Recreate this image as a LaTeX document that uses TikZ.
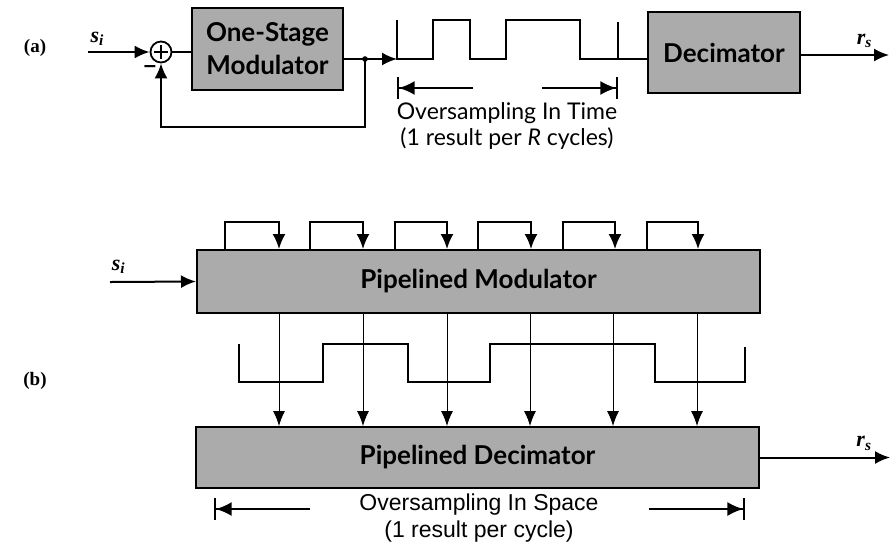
\documentclass[tikz,border=0pt]{standalone}
\usepackage{amsmath}
\usepackage{fontspec}
\setmainfont{Lato}
\newfontfamily\labelserif{Liberation Serif}
\newfontfamily\spacefont{Liberation Sans}
\usetikzlibrary{arrows.meta,positioning}
\definecolor{stipple}{HTML}{ABABAB}

\newcommand{\sigvar}[2]{{\labelserif\bfseries\itshape #1\textsubscript{#2}}}

\tikzset{
  blockbox/.style={draw, line width=2pt, fill=stipple, inner sep=0pt,
    align=center, font=\fontsize{26}{33}\selectfont\bfseries},
  sumnode/.style={circle, draw, line width=1.8pt, minimum size=21pt, inner sep=0pt,
    path picture={\draw[line width=2.2pt] (path picture bounding box.center) +(-7pt,0) -- +(7pt,0)
      (path picture bounding box.center) +(0,-7pt) -- +(0,7pt);}},
  varlabel/.style={font=\fontsize{22}{22}\selectfont},
  wire/.style={line width=2pt},
  sig/.style={wire, -{Latex[length=15pt,width=13pt]}},
  tap/.style={line width=0.9pt, -{Latex[length=15pt,width=12pt]}},
  wave/.style={line width=2.4pt, line join=miter},
  span/.style={line width=2.2pt, -{Latex[length=16pt,width=14pt]Bar[width=22pt,line width=1.6pt]}},
}

\begin{document}
\begin{tikzpicture}[x=1pt, y=-1pt]
  \useasboundingbox (0,0) rectangle (890,550);

  % (a) one-stage modulator
  \node[font=\labelserif\fontsize{19}{20}\selectfont\bfseries] (lbla) at (35,48) {(a)};
  \coordinate (ina) at (88,52);
  \node[sumnode] (sum) at (161,52) {};
  \node[font=\spacefont\fontsize{22}{22}\selectfont\bfseries] (minus) at (150,69) {\char"2013};
  \node[blockbox, minimum width=151pt, minimum height=82pt] (mod) at (267.5,49) {One-Stage\\Modulator};
  \node[blockbox, minimum width=152pt, minimum height=81pt] (dec) at (724,52.5) {Decimator};
  \coordinate (jn) at (365,59);
  \coordinate (wa0) at (397,59);
  \coordinate (wa1) at (618,59);
  \coordinate (outa) at (889,55);

  \draw[sig] (ina) -- node[varlabel, above=2pt, pos=0.15] {\sigvar{s}{i}} (sum.west);
  \draw[wire] (sum.east) -- (mod.west |- sum.east);
  \draw[wire] (mod.east |- jn) -- (jn);
  \draw[sig] (jn) -- (wa0);
  \fill (jn) circle (2.8pt);
  \draw[sig] (jn) -- ++(0,68) -| (sum.south);
  \draw[wave] (397,20) -- (wa0) -- (433,59) -- (433,20) -- (470,20) -- (470,59) -- (506,59)
    -- (506,20) -- (580,20) -- (580,59) -- (wa1) -- (618,22);
  \draw[wire] (wa1) -- (dec.west |- wa1);
  \draw[sig] (dec.east |- outa) -- node[varlabel, above=3pt, pos=0.72] {\sigvar{r}{s}} (outa);

  \draw[span] (473,88) -- (397,88);
  \draw[span] (542,88) -- (618,88);
  \node[font=\fontsize{23}{26}\selectfont, align=center] (timetxt) at (507,126)
    {Oversampling In Time\\(1 result per \textit{R} cycles)};

  % (b) pipelined modulator
  \node[font=\labelserif\fontsize{19}{20}\selectfont\bfseries] (lblb) at (35,381) {(b)};
  \node[blockbox, minimum width=563pt, minimum height=63pt] (pm) at (478.5,281.5) {Pipelined Modulator};
  \node[blockbox, minimum width=563pt, minimum height=61pt] (pd) at (477.5,457.5) {Pipelined Decimator};
  \coordinate (inb) at (110,282);
  \draw[sig] (inb) -- node[varlabel, above=4pt, pos=0.1] {\sigvar{s}{i}} (pm.west);

  \foreach \l/\r in {225/279, 310/363, 395/447, 478/531, 563/615, 647/698}
    \draw[sig] (pm.north -| \l,0) -- (\l,222) -- (\r,222) -- (pm.north -| \r,0);

  \draw[wave] (239,344) -- (239,382) -- (323,382) -- (323,344) -- (408,344) -- (408,382)
    -- (490,382) -- (490,344) -- (655,344) -- (655,382) -- (745,382) -- (745,347);

  \foreach \x in {279, 363, 447, 530, 613, 697}
    \draw[tap] (pm.south -| \x,0) -- (pd.north -| \x,0);

  \draw[sig] (pd.east) -- node[varlabel, above=3pt, pos=0.8] {\sigvar{r}{s}} ++(130,0);

  \draw[span] (310,509) -- (214,509);
  \draw[span] (649,509) -- (745,509);
  \node[font=\spacefont\fontsize{23}{27}\selectfont, align=center] (spacetxt) at (479,518)
    {Oversampling In Space\\(1 result per cycle)};
\end{tikzpicture}
\end{document}
